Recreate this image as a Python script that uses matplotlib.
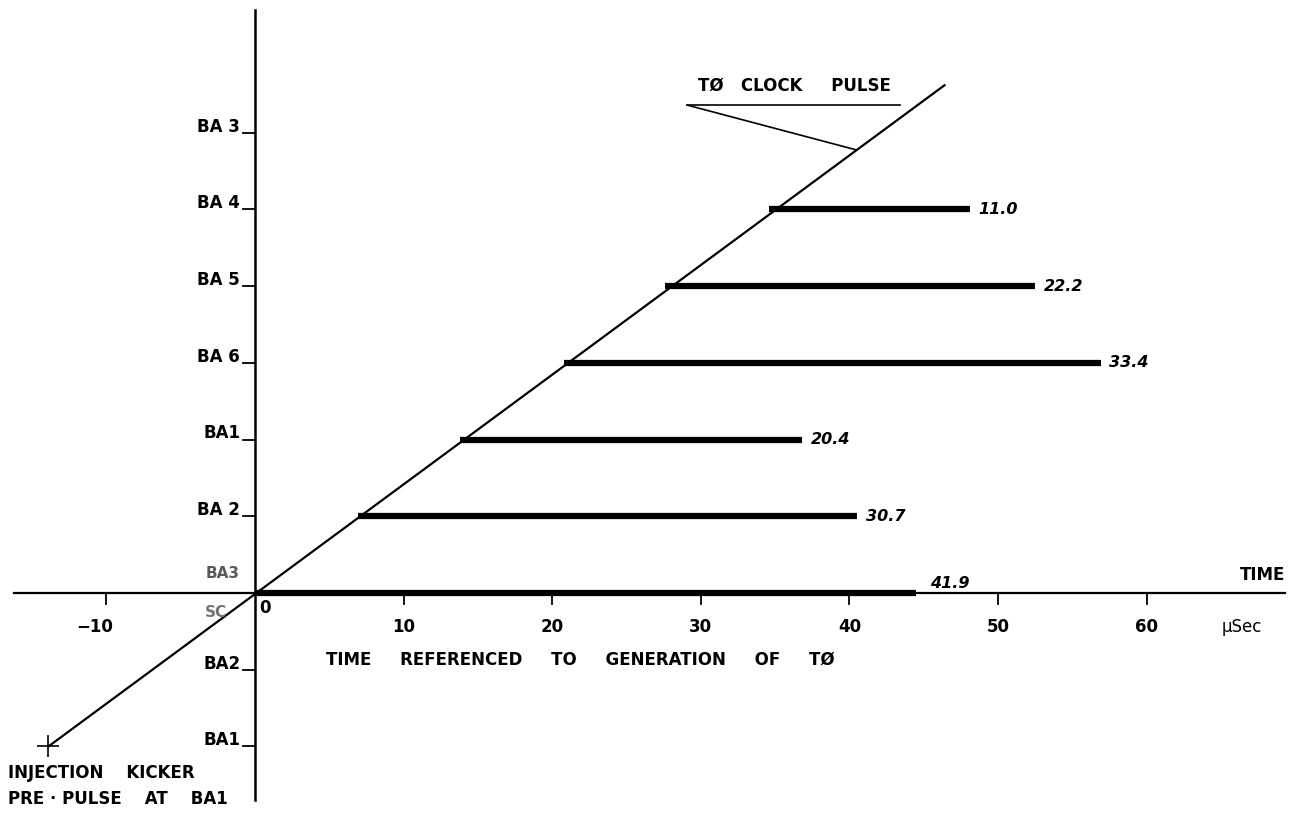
import matplotlib.pyplot as plt

# stations on the vertical axis, one level each (level 0 = origin)
up_labels = ["BA 2", "BA1", "BA 6", "BA 5", "BA 4", "BA 3"]
up_levels = [1, 2, 3, 4, 5, 6]
down_labels = ["BA2", "BA1"]
down_levels = [-1, -2]

# pulse bars: level, start (on T0 line), end, annotated value
bar_levels = [0, 1, 2, 3, 4, 5]
bar_start = [0.0, 6.9, 13.8, 20.8, 27.6, 34.6]
bar_end = [44.5, 40.5, 36.8, 56.9, 52.5, 48.1]
bar_value = ["41.9", "30.7", "20.4", "33.4", "22.2", "11.0"]

x_ticks = [-10, 10, 20, 30, 40, 50, 60]

# T0 line: from injection kicker pre-pulse to top
t0_x = [-13.9, 46.4]
t0_y = [-2.0, 6.62]

fig = plt.figure(figsize=(12.93, 8.15), dpi=100)
ax = fig.add_axes([0, 0, 1, 1])
ax.set_xlim(-17.16, 69.85)
ax.set_ylim(-2.894, 7.731)
ax.axis("off")

plt.rcParams["font.family"] = ["DejaVu Sans"]
plt.rcParams["font.weight"] = "bold"
fs = 12
k = "black"

# axes
ax.plot([-16.2, 69.3], [0, 0], color=k, lw=1.6)
ax.plot([0, 0], [-2.7, 7.6], color=k, lw=1.8)

# x ticks
for t in x_ticks:
    ax.plot([t, t], [0, -0.14], color=k, lw=1.3)
    ax.text(t - (0.8 if t < 0 else 0), -0.44, str(t).replace("-", "−"),
            ha="center", va="center", fontsize=fs)
ax.text(0.7, -0.2, "0", ha="center", va="center", fontsize=fs)
ax.text(66.4, -0.44, "µSec", ha="center", va="center", fontsize=fs, fontweight="normal")
ax.text(67.8, 0.24, "TIME", ha="center", va="center", fontsize=fs)
ax.text(21.9, -0.87, "TIME     REFERENCED     TO     GENERATION     OF     TØ",
        ha="center", va="center", fontsize=fs)

# y ticks
for lab, lv in zip(up_labels + down_labels, up_levels + down_levels):
    ax.plot([-0.8, 0], [lv, lv], color=k, lw=1.3)
    ax.text(-1.0, lv + 0.08, lab, ha="right", va="center", fontsize=fs)
ax.text(-2.2, 0.25, "BA3", ha="center", va="center", fontsize=fs - 1, color="0.35")
ax.text(-2.6, -0.25, "SC", ha="center", va="center", fontsize=fs - 1, color="0.45")

# T0 line and kicker mark
ax.plot(t0_x, t0_y, color=k, lw=1.6)
ax.plot(t0_x[0], t0_y[0], marker="+", ms=16, mew=1.2, color=k)
ax.text(-16.6, -2.35, "INJECTION    KICKER", ha="left", va="center", fontsize=fs)
ax.text(-16.6, -2.68, "PRE · PULSE    AT    BA1", ha="left", va="center", fontsize=fs)

# pulse bars
for lv, x0, x1, v in zip(bar_levels, bar_start, bar_end, bar_value):
    ax.plot([x0, x1], [lv, lv], color=k, lw=4.5, solid_capstyle="butt")
    dy = 0.13 if lv == 0 else 0
    ax.text(x1 + (0.9 if lv == 0 else 0.6), lv + dy, v, ha="left", va="center",
            fontsize=fs - 0.5, style="italic")

# T0 clock pulse callout
ax.text(36.3, 6.62, "TØ   CLOCK     PULSE", ha="center", va="center", fontsize=fs)
ax.plot([29.1, 43.4], [6.36, 6.36], color=k, lw=1.2)
ax.plot([29.1, 40.4], [6.36, 5.78], color=k, lw=1.2)

fig.savefig("out.png", dpi=100)
